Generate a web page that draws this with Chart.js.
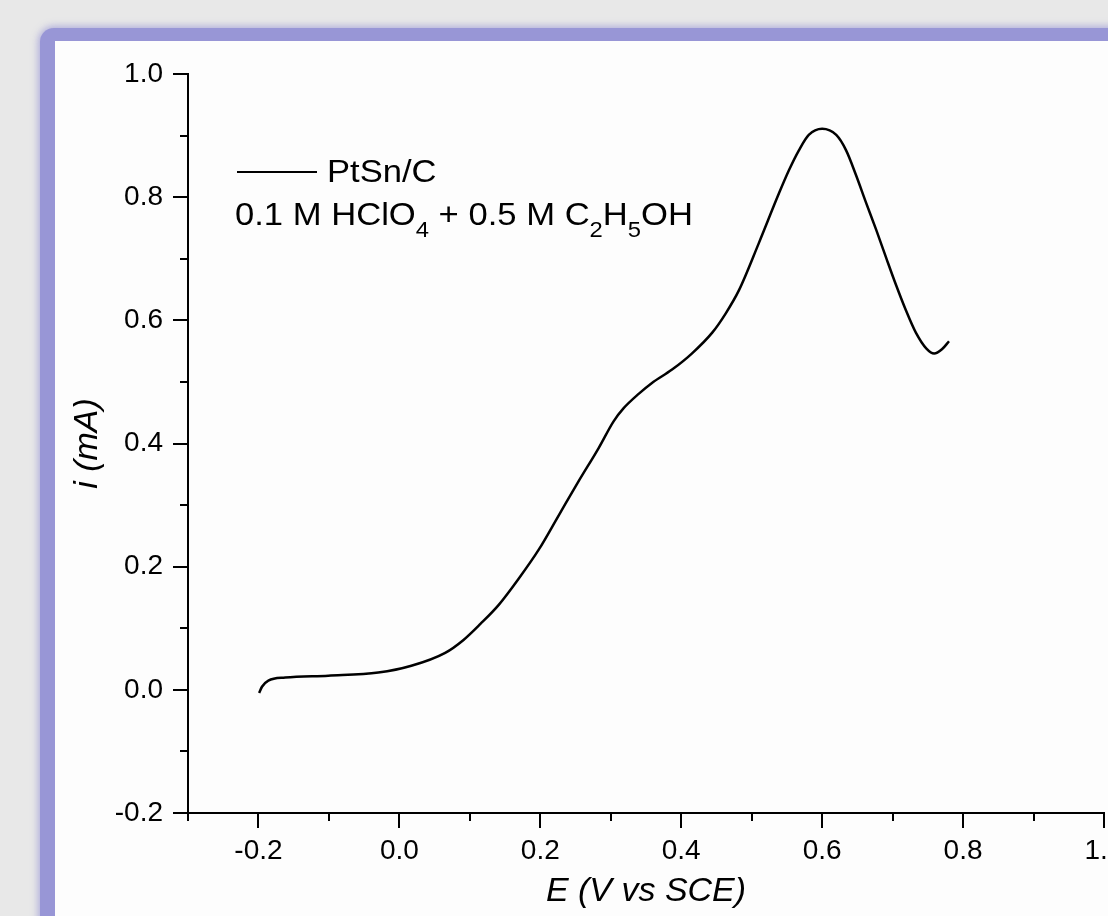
<!DOCTYPE html>
<html><head><meta charset="utf-8">
<script src="https://cdn.jsdelivr.net/npm/chart.js@4/dist/chart.umd.min.js"></script>
<style>
html,body{margin:0;padding:0;width:1108px;height:916px;overflow:hidden;background:#e8e8e8;}
#panel{position:absolute;left:40px;top:28px;width:1150px;height:1000px;box-sizing:border-box;border-left:15px solid #9896d6;border-top:13px solid #9896d6;border-top-left-radius:14px;background:#fdfdfd;box-shadow:0 0 7px 2px rgba(152,150,214,0.7);}
#c{position:absolute;left:0;top:0;}
</style></head>
<body>
<div id="panel"></div>
<canvas id="c" width="1160" height="916"></canvas>
<script>
// ---- data ----
const seriesLabel = 'PtSn/C';
const electrolyteParts = [['0.1 M HClO',0],['4',1],[' + 0.5 M C',0],['2',1],['H',0],['5',1],['OH',0]];
const potentialV = [-0.199,-0.195,-0.186,-0.162,-0.101,-0.030,0.017,0.065,0.091,0.115,0.141,0.169,0.198,0.226,0.254,0.283,0.304,0.318,0.340,0.358,0.387,0.415,0.444,0.463,0.482,0.510,0.539,0.553,0.567,0.581,0.600,0.620,0.634,0.648,0.662,0.677,0.691,0.705,0.719,0.733,0.748,0.759,0.770,0.780];
const currentMA  = [-0.005,0.005,0.015,0.020,0.023,0.028,0.039,0.060,0.081,0.107,0.138,0.180,0.228,0.283,0.338,0.393,0.436,0.457,0.481,0.498,0.520,0.546,0.580,0.611,0.649,0.725,0.807,0.844,0.876,0.901,0.911,0.901,0.876,0.836,0.792,0.746,0.701,0.657,0.616,0.580,0.554,0.546,0.553,0.566];
const xTitle = 'E (V vs SCE)';
const yTitle = 'i (mA)';
const xRange = [-0.3, 1.0];
const yRange = [-0.2, 1.0];

const FONT = '"Liberation Sans", Arial, sans-serif';
const isMajor = v => Math.round(v*10) % 2 === 0;

const tickPlugin = {
  id:'customTicks',
  afterDraw(chart){
    const ctx = chart.ctx, xs = chart.scales.x, ys = chart.scales.y;
    ctx.save(); ctx.strokeStyle = '#000'; ctx.lineWidth = 2;
    for (const t of xs.ticks){
      const px = Math.round(xs.getPixelForValue(t.value));
      const len = isMajor(t.value) ? 15 : 8;
      ctx.beginPath(); ctx.moveTo(px, xs.top); ctx.lineTo(px, xs.top+len); ctx.stroke();
    }
    for (const t of ys.ticks){
      const py = Math.round(ys.getPixelForValue(t.value));
      const len = isMajor(t.value) ? 15 : 8;
      ctx.beginPath(); ctx.moveTo(ys.right, py); ctx.lineTo(ys.right-len, py); ctx.stroke();
    }
    ctx.restore();
  }
};

const legendPlugin = {
  id:'insideLegend',
  afterDraw(chart){
    const ctx = chart.ctx;
    ctx.save();
    ctx.strokeStyle = '#000'; ctx.lineWidth = 2;
    ctx.beginPath(); ctx.moveTo(237,172); ctx.lineTo(317,172); ctx.stroke();
    ctx.fillStyle = '#000'; ctx.textBaseline = 'alphabetic';
    const big = '32px ' + FONT, small = '22px ' + FONT;
    ctx.save(); ctx.translate(327,182); ctx.scale(1.08,1); ctx.font = big;
    ctx.fillText(chart.data.datasets[0].label, 0, 0); ctx.restore();
    let w = 0;
    for (const [t,s] of electrolyteParts){ ctx.font = s ? small : big; w += ctx.measureText(t).width; }
    const sx = 458 / w;
    ctx.save(); ctx.translate(235,225); ctx.scale(sx,1);
    let x = 0;
    for (const [t,s] of electrolyteParts){
      ctx.font = s ? small : big;
      ctx.fillText(t, x, s ? 12 : 0);
      x += ctx.measureText(t).width;
    }
    ctx.restore();
    ctx.restore();
  }
};

new Chart(document.getElementById('c'), {
  type:'scatter',
  data:{datasets:[{
    label: seriesLabel,
    data: potentialV.map((v,i)=>({x:v, y:currentMA[i]})),
    showLine:true, borderColor:'#000', borderWidth:2.5, pointRadius:0,
    cubicInterpolationMode:'monotone', fill:false
  }]},
  options:{
    responsive:false, animation:false, devicePixelRatio:1,
    layout:{padding:{left:0, top:74, right:56, bottom:0}},
    plugins:{legend:{display:false}, tooltip:{enabled:false}},
    scales:{
      x:{
        type:'linear', min:xRange[0], max:xRange[1],
        afterFit(s){ s.height = 103; },
        border:{display:true, color:'#000', width:2},
        grid:{display:true, drawOnChartArea:false, drawTicks:true, tickLength:15, color:'rgba(0,0,0,0)'},
        ticks:{stepSize:0.1, autoSkip:false, maxRotation:0, padding:6, color:'#000',
          font:{family:FONT, size:28},
          callback:v => isMajor(v) ? (Math.abs(v)<1e-9?0:v).toFixed(1) : ''},
        title:{display:true, text:xTitle, color:'#000', padding:{top:0,bottom:4},
          font:{family:FONT, size:34, style:'italic'}}
      },
      y:{
        type:'linear', min:yRange[0], max:yRange[1],
        afterFit(s){ s.width = 188; },
        border:{display:true, color:'#000', width:2},
        grid:{display:true, drawOnChartArea:false, drawTicks:true, tickLength:15, color:'rgba(0,0,0,0)'},
        ticks:{stepSize:0.1, autoSkip:false, padding:10, color:'#000',
          font:{family:FONT, size:28},
          callback:v => isMajor(v) ? (Math.abs(v)<1e-9?0:v).toFixed(1) : ''},
        title:{display:true, text:yTitle, color:'#000', padding:{top:67,bottom:0},
          font:{family:FONT, size:34, style:'italic'}}
      }
    }
  },
  plugins:[tickPlugin, legendPlugin]
});
</script>
</body></html>
